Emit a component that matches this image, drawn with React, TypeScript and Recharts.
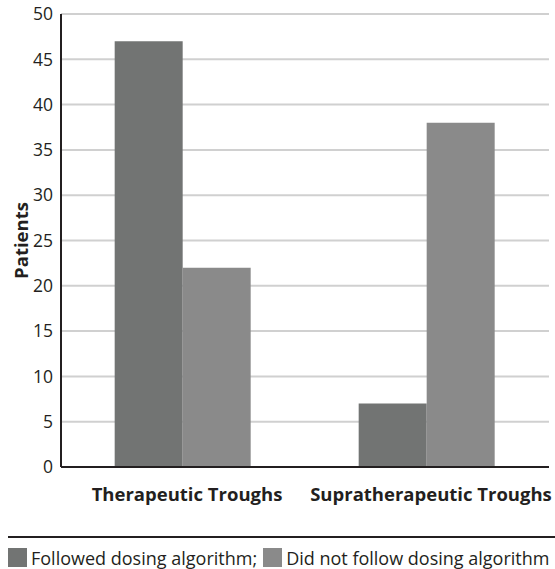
import { BarChart, Bar, XAxis, YAxis, CartesianGrid } from "recharts";

const categories = ["Therapeutic Troughs", "Supratherapeutic Troughs"];
const followed = [47, 7];
const notFollowed = [22, 38];
const yTicks = [0, 5, 10, 15, 20, 25, 30, 35, 40, 45, 50];

const data = categories.map((name, i) => ({
    name,
    followed: followed[i],
    notFollowed: notFollowed[i],
}));

const FONT = "'Open Sans', Lato, sans-serif";
const INK = "#231f20";
const DARK = "#727473";
const LIGHT = "#8a8a8a";

const YLabel = ({ viewBox }: any) => {
    const cy = viewBox.y + viewBox.height / 2;
    return (
        <text
            x={20}
            y={cy}
            transform={`rotate(-90, 20, ${cy})`}
            textAnchor="middle"
            dominantBaseline="central"
            fontFamily={FONT}
            fontWeight={700}
            fontSize={18.5}
            fill={INK}
        >
            Patients
        </text>
    );
};

const App = () => {
    return (
        <div style={{ position: "absolute", left: 0, top: 0, width: 555, height: 569, background: "#fff", fontFamily: FONT }}>
            <BarChart
                width={555}
                height={520}
                data={data}
                margin={{ top: 14, right: 6, left: 0, bottom: 0 }}
                barCategoryGap="22%"
                barGap={0}
            >
                <CartesianGrid vertical={false} stroke="#d0d0d0" strokeWidth={2} />
                <XAxis
                    dataKey="name"
                    height={53}
                    tickSize={0}
                    tickMargin={21}
                    axisLine={{ stroke: INK, strokeWidth: 2 }}
                    tick={{ fontSize: 18.5, fontWeight: 700, fill: INK, fontFamily: FONT, dx: 4 }}
                    interval={0}
                />
                <YAxis
                    width={61}
                    domain={[0, 50]}
                    ticks={yTicks}
                    tickSize={0}
                    tickMargin={8}
                    axisLine={{ stroke: INK, strokeWidth: 2 }}
                    tick={{ fontSize: 17.5, fill: INK, fontFamily: FONT }}
                    label={<YLabel />}
                />
                <Bar dataKey="followed" fill={DARK} isAnimationActive={false} />
                <Bar dataKey="notFollowed" fill={LIGHT} isAnimationActive={false} />
            </BarChart>

            {/* rule above legend */}
            <div style={{ position: "absolute", left: 8, top: 536, width: 547, height: 2, background: INK }} />

            {/* legend */}
            <div
                style={{
                    position: "absolute",
                    left: 8,
                    top: 548,
                    height: 19,
                    display: "flex",
                    alignItems: "center",
                    fontSize: 18,
                    color: INK,
                    whiteSpace: "nowrap",
                }}
            >
                <span style={{ display: "inline-block", width: 19, height: 19, background: DARK, marginRight: 4 }} />
                <span>Followed dosing algorithm;</span>
                <span style={{ display: "inline-block", width: 19, height: 19, background: LIGHT, marginLeft: 6, marginRight: 4 }} />
                <span>Did not follow dosing algorithm</span>
            </div>
        </div>
    );
};

export default App;
